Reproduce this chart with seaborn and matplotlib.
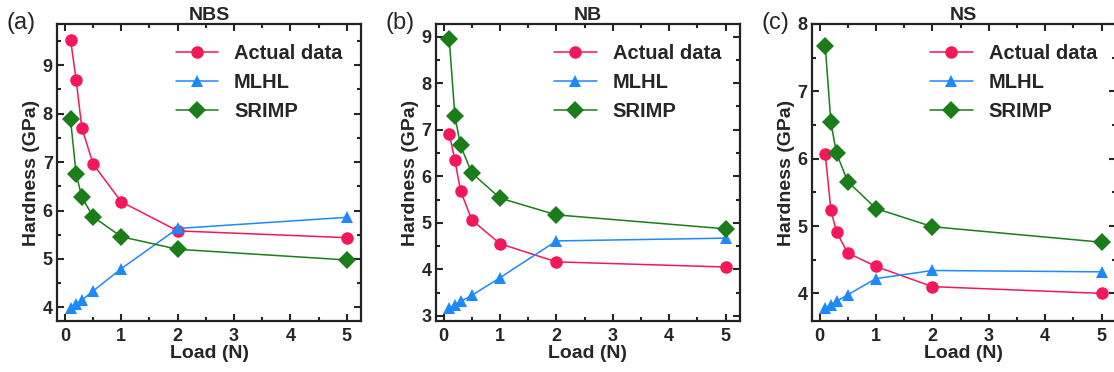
import numpy as np
import pandas as pd
import matplotlib
matplotlib.use("Agg")
import matplotlib.pyplot as plt
from matplotlib.ticker import MultipleLocator
import seaborn as sns

sns.set_theme(style="ticks")
plt.rcParams['font.family'] = ['Liberation Sans', 'DejaVu Sans']
plt.rcParams['font.weight'] = 'bold'

# --- data ---
load = [0.1, 0.2, 0.3, 0.5, 1, 2, 5]
series_names = ['Actual data', 'MLHL', 'SRIMP']

nbs_actual = [9.53, 8.69, 7.71, 6.96, 6.18, 5.58, 5.44]
nbs_mlhl = [3.99, 4.07, 4.15, 4.34, 4.80, 5.63, 5.86]
nbs_srimp = [7.88, 6.75, 6.28, 5.87, 5.46, 5.20, 4.98]

nb_actual = [6.91, 6.35, 5.69, 5.06, 4.55, 4.16, 4.05]
nb_mlhl = [3.16, 3.24, 3.31, 3.44, 3.82, 4.61, 4.67]
nb_srimp = [8.94, 7.30, 6.66, 6.07, 5.53, 5.17, 4.87]

ns_actual = [6.07, 5.24, 4.91, 4.60, 4.40, 4.10, 4.00]
ns_mlhl = [3.78, 3.83, 3.88, 3.98, 4.22, 4.34, 4.32]
ns_srimp = [7.68, 6.54, 6.08, 5.66, 5.26, 4.99, 4.76]

titles = ['NBS', 'NB', 'NS']
panel_tags = ['(a)', '(b)', '(c)']
ylims = [(3.72, 9.85), (2.89, 9.27), (3.59, 8.0)]

colors = {'Actual data': '#F2185A', 'MLHL': '#1E88FF', 'SRIMP': '#1A7D1A'}
markers = {'Actual data': 'o', 'MLHL': '^', 'SRIMP': 'D'}

panels = [
    (nbs_actual, nbs_mlhl, nbs_srimp),
    (nb_actual, nb_mlhl, nb_srimp),
    (ns_actual, ns_mlhl, ns_srimp),
]

fig = plt.figure(figsize=(11.14, 3.72), dpi=100)
lefts = [57, 435.7, 811.7]
ax_w = 304 / 1114
ax_b = 1 - 321 / 372
ax_h = (321 - 24) / 372

for i, vals in enumerate(panels):
    rows = []
    for name, v in zip(series_names, vals):
        for x, y in zip(load, v):
            rows.append({'load': x, 'hardness': y, 'model': name})
    df = pd.DataFrame(rows)

    ax = fig.add_axes([lefts[i] / 1114, ax_b, ax_w, ax_h])
    sns.lineplot(data=df, x='load', y='hardness', hue='model', style='model',
                 palette=colors, markers=markers, dashes=False, ax=ax,
                 markersize=9, markeredgewidth=0, linewidth=1.1, sort=False)

    ax.set_xlim(-0.14, 5.25)
    ax.set_ylim(*ylims[i])
    ax.xaxis.set_major_locator(MultipleLocator(1))
    ax.xaxis.set_minor_locator(MultipleLocator(0.5))
    ax.yaxis.set_major_locator(MultipleLocator(1))
    ax.yaxis.set_minor_locator(MultipleLocator(0.5))
    ax.tick_params(which='both', direction='in', top=True, right=True, width=1.5)
    ax.tick_params(which='major', length=5, labelsize=13)
    ax.tick_params(axis='x', which='major', pad=5)
    ax.tick_params(axis='y', which='major', pad=3)
    ax.tick_params(which='minor', length=3)
    for lab in ax.get_xticklabels() + ax.get_yticklabels():
        lab.set_fontweight('bold')
    for sp in ax.spines.values():
        sp.set_linewidth(1.6)
        sp.set_color('#222222')

    ax.set_xlabel('Load (N)', fontsize=14, fontweight='bold', labelpad=0)
    ax.set_ylabel('Hardness (GPa)', fontsize=14, fontweight='bold', labelpad=2)
    ax.set_title(titles[i], fontsize=14, fontweight='bold', pad=3)

    leg = ax.legend(loc='upper right', frameon=False, fontsize=14.5,
                    handlelength=2.1, handletextpad=0.8, labelspacing=0.5,
                    borderaxespad=0.3, bbox_to_anchor=(0.985, 0.98))
    for t in leg.get_texts():
        t.set_fontweight('bold')

    fig.text((lefts[i] - 50) / 1114, 1 - 23 / 372, panel_tags[i],
             fontsize=17, fontweight='normal', va='center', ha='left')

fig.savefig('out.png', dpi=100)
